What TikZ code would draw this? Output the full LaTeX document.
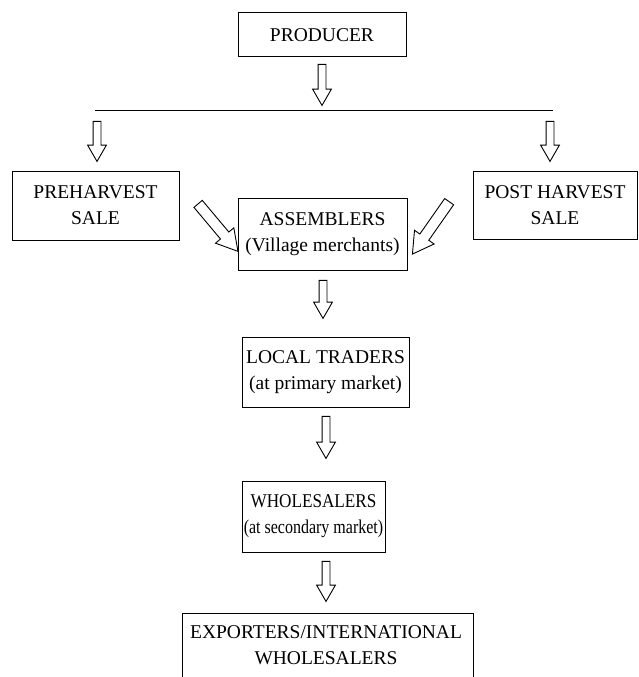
\documentclass[tikz,border=0pt]{standalone}
\usepackage{fontspec}
\setmainfont{Liberation Serif}
\usetikzlibrary{shapes.arrows}
\begin{document}
\begin{tikzpicture}[x=1pt,y=-1pt,
  box/.style={draw, line width=1pt, align=center, inner sep=0pt,
    font=\fontsize{19.5}{26}\selectfont},
  txt/.style={align=center, inner sep=0pt, font=\fontsize{19.5}{26}\selectfont},
  harrow/.style={draw, line width=0.9pt, single arrow, inner xsep=0pt, inner ysep=3.5pt,
    single arrow head extend=5.5pt,
    single arrow tip angle=60, minimum height=40pt},
  darrow/.style={draw, line width=0.9pt, single arrow, inner xsep=0pt, inner ysep=5pt,
    single arrow head extend=6.5pt,
    single arrow tip angle=60, minimum height=62pt}]
\useasboundingbox (0,0) rectangle (638,677);

\node[box, minimum width=168pt, minimum height=44pt] (prod) at (322,35) {PRODUCER};
\node[box, minimum width=167pt, minimum height=69pt] (pre) at (95.5,205.5) {PREHARVEST\\SALE};
\node[box, minimum width=164pt, minimum height=68pt] (post) at (555,205) {POST HARVEST\\SALE};
\node[box, minimum width=169pt, minimum height=72pt] (asm) at (322.5,234) {ASSEMBLERS\\(Village merchants)};
\node[box, minimum width=167pt, minimum height=70pt] (loc) at (325.5,372) {LOCAL TRADERS\\(at primary market)};
\node[box, minimum width=143pt, minimum height=71pt] (whl) at (313.5,516.5) {\scalebox{0.88}[1]{WHOLESALERS}\\\scalebox{0.82}[1]{(at secondary market)}};
\node[txt] (exp) at (326,645) {EXPORTERS/INTERNATIONAL\\WHOLESALERS};

% open-bottom box for exporters
\coordinate (expbl) at (182,677);
\coordinate (exptl) at (182,613);
\coordinate (exptr) at (473,613);
\coordinate (expbr) at (473,677);
\draw[line width=1pt] (expbl) -- (exptl) -- (exptr) -- (expbr);

% distribution line
\coordinate (lineL) at (95,110);
\coordinate (lineR) at (553,110);
\draw[line width=1pt] (lineL) -- (lineR);

% hollow arrows
\node[harrow, minimum height=41pt, rotate=-90] (a1) at (322,81.5) {};
\node[harrow, rotate=-90] (a2) at (97,138) {};
\node[harrow, rotate=-90] (a3) at (550,138) {};
\node[harrow, minimum height=38pt, rotate=-90] (a4) at (323,296) {};
\node[harrow, minimum height=42pt, rotate=-90] (a5) at (326,434) {};
\node[harrow, rotate=-90] (a6) at (326,578) {};
\node[darrow, rotate=-50] (d1) at (215,224) {};
\node[darrow, minimum height=64pt, rotate=-125] (d2) at (433.5,224) {};
\end{tikzpicture}
\end{document}
